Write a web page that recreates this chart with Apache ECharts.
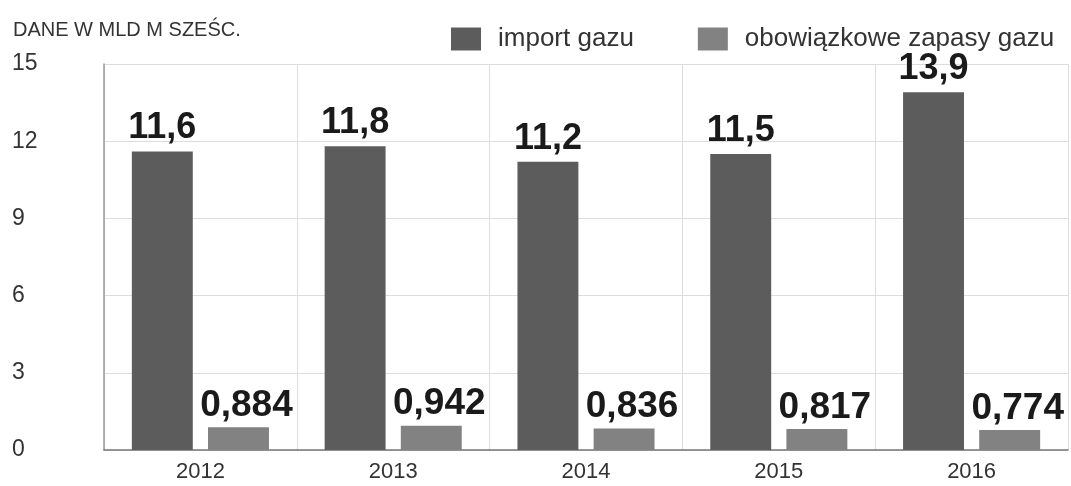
<!DOCTYPE html>
<html>
<head>
<meta charset="utf-8">
<script src="https://cdn.jsdelivr.net/npm/echarts@6/dist/echarts.min.js"></script>
<style>
  html, body { margin: 0; padding: 0; background: #fff; }
  #chart { width: 1071px; height: 486px; }
</style>
</head>
<body>
<div id="chart"></div>
<script>
const years = ["2012", "2013", "2014", "2015", "2016"];
const importGazu = [11.6, 11.8, 11.2, 11.5, 13.9];
const zapasyGazu = [0.884, 0.942, 0.836, 0.817, 0.774];
const seriesNames = ["import gazu", "obowiązkowe zapasy gazu"];

const fmt = p => String(p.value).replace(".", ",");

const chart = echarts.init(document.getElementById("chart"));
chart.setOption({
  animation: false,
  title: {
    text: "DANE W MLD M SZEŚC.",
    left: 8,
    top: 15,
    textStyle: { fontFamily: "Liberation Sans", fontSize: 20, fontWeight: "normal", color: "#333" }
  },
  legend: {
    data: seriesNames,
    left: 446,
    top: 21,
    icon: "rect",
    itemWidth: 30,
    itemHeight: 23,
    itemGap: 64,
    textStyle: { fontFamily: "Liberation Sans", fontSize: 26, color: "#333", padding: [0, 0, 0, 12] }
  },
  grid: { left: 104, right: 3, top: 64, bottom: 36 },
  xAxis: {
    type: "category",
    data: years,
    axisLine: { lineStyle: { color: "#777", width: 1.5 } },
    axisTick: { show: false },
    splitLine: { show: true, lineStyle: { color: "#ddd" } },
    axisLabel: { fontFamily: "Liberation Sans", fontSize: 22, color: "#333", margin: 11 }
  },
  yAxis: {
    type: "value",
    min: 0,
    max: 15,
    interval: 3,
    axisLine: { show: true, lineStyle: { color: "#999", width: 1.5 } },
    splitLine: { lineStyle: { color: "#ddd" } },
    axisLabel: { fontFamily: "Liberation Sans", fontSize: 23, color: "#333", align: "left", margin: 92 }
  },
  series: [
    {
      name: seriesNames[0],
      type: "bar",
      data: importGazu,
      barWidth: "31.6%",
      barGap: "25%",
      itemStyle: { color: "#5c5c5c" },
      label: {
        show: true, position: "top", distance: 5, formatter: fmt,
        fontFamily: "Liberation Sans", fontWeight: "bold", fontSize: 36, color: "#1a1a1a"
      }
    },
    {
      name: seriesNames[1],
      type: "bar",
      data: zapasyGazu,
      barWidth: "31.6%",
      itemStyle: { color: "#828282" },
      label: {
        show: true, position: "top", distance: 3, offset: [8, 0], formatter: fmt,
        fontFamily: "Liberation Sans", fontWeight: "bold", fontSize: 37, color: "#1a1a1a"
      }
    }
  ]
});
</script>
</body>
</html>
